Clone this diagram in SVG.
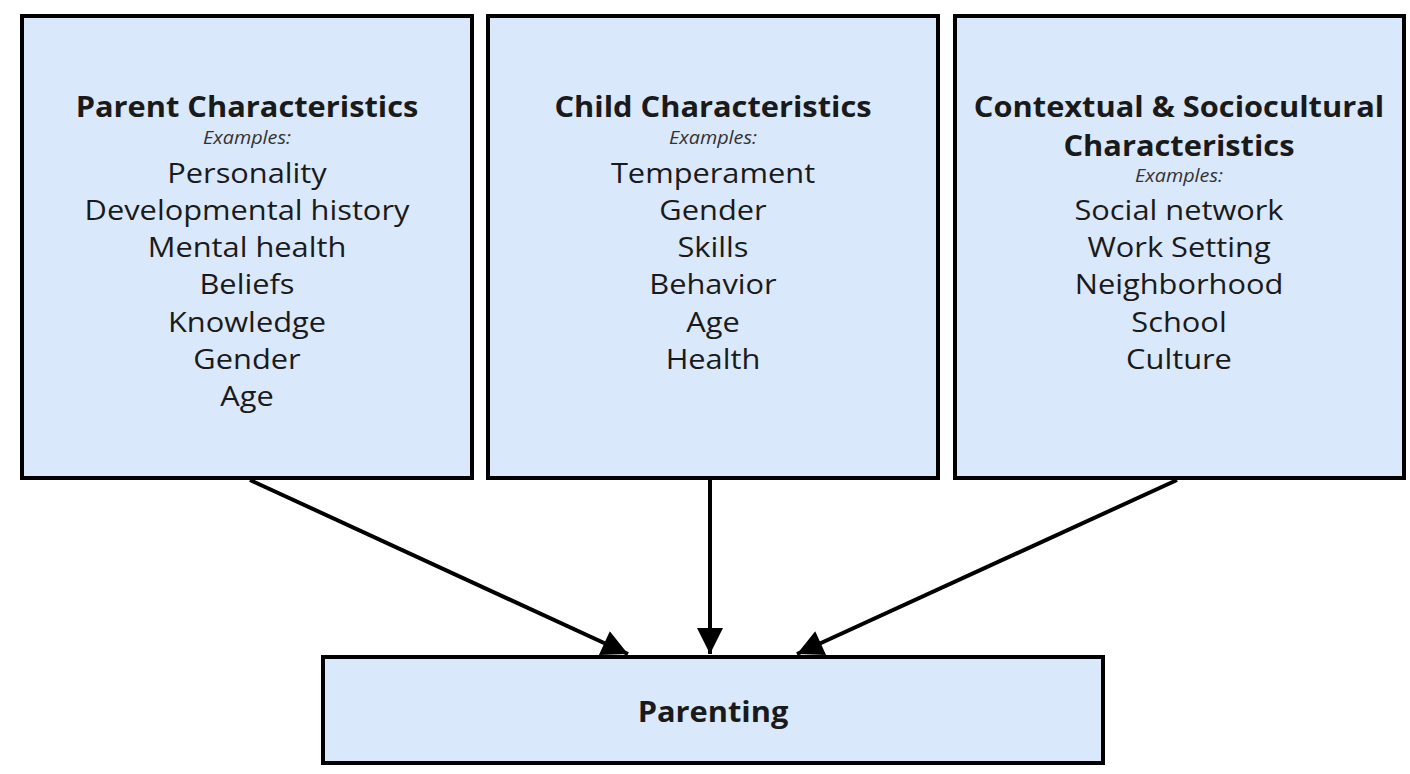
<svg xmlns="http://www.w3.org/2000/svg" width="1410" height="774" viewBox="0 0 1410 774">
<style>
.box{fill:#dae8fc;stroke:#000;stroke-width:4}
.t{font-family:"Open Sans","Liberation Sans",sans-serif;fill:#1a1a1a;text-anchor:middle}
.h{font-size:28px;font-weight:bold}
.e{font-size:18px;font-style:italic;fill:#333}
.i{font-size:28px}
.c{stroke:#000;stroke-width:4;fill:none}
</style>
<defs>
<marker id="ah" viewBox="0 0 10 10" refX="10" refY="5" markerWidth="7.5" markerHeight="6.5" markerUnits="strokeWidth" orient="auto">
<path d="M0,0 L10,5 L0,10 z" fill="#000"/>
</marker>
</defs>
<rect width="1410" height="774" fill="#fff"/>
<g id="parent">
<rect class="box" x="22" y="16" width="450" height="462"/>
<g transform="translate(247,0) scale(1.1,1)">
<text class="t h" x="0" y="117">Parent Characteristics</text>
<text class="t e" x="0" y="144">Examples:</text>
<text class="t i" x="0" y="183">Personality</text>
<text class="t i" x="0" y="220">Developmental history</text>
<text class="t i" x="0" y="257">Mental health</text>
<text class="t i" x="0" y="294">Beliefs</text>
<text class="t i" x="0" y="332">Knowledge</text>
<text class="t i" x="0" y="369">Gender</text>
<text class="t i" x="0" y="406">Age</text>
</g>
</g>
<g id="child">
<rect class="box" x="488" y="16" width="450" height="462"/>
<g transform="translate(713,0) scale(1.1,1)">
<text class="t h" x="0" y="117">Child Characteristics</text>
<text class="t e" x="0" y="144">Examples:</text>
<text class="t i" x="0" y="183">Temperament</text>
<text class="t i" x="0" y="220">Gender</text>
<text class="t i" x="0" y="257">Skills</text>
<text class="t i" x="0" y="294">Behavior</text>
<text class="t i" x="0" y="332">Age</text>
<text class="t i" x="0" y="369">Health</text>
</g>
</g>
<g id="context">
<rect class="box" x="955" y="16" width="449" height="462"/>
<g transform="translate(1179,0) scale(1.1,1)">
<text class="t h" x="0" y="117">Contextual &amp; Sociocultural</text>
<text class="t h" x="0" y="156">Characteristics</text>
<text class="t e" x="0" y="182">Examples:</text>
<text class="t i" x="0" y="220">Social network</text>
<text class="t i" x="0" y="257">Work Setting</text>
<text class="t i" x="0" y="294">Neighborhood</text>
<text class="t i" x="0" y="332">School</text>
<text class="t i" x="0" y="369">Culture</text>
</g>
</g>
<g id="parenting">
<rect class="box" x="323" y="657" width="780" height="106"/>
<g transform="translate(713,0) scale(1.1,1)">
<text class="t h" x="0" y="722">Parenting</text>
</g>
</g>
<g id="connectors">
<line class="c" x1="250" y1="480" x2="628" y2="654" marker-end="url(#ah)"/>
<line class="c" x1="710" y1="480" x2="710" y2="654" marker-end="url(#ah)"/>
<line class="c" x1="1177" y1="480" x2="797" y2="654" marker-end="url(#ah)"/>
</g>
</svg>
